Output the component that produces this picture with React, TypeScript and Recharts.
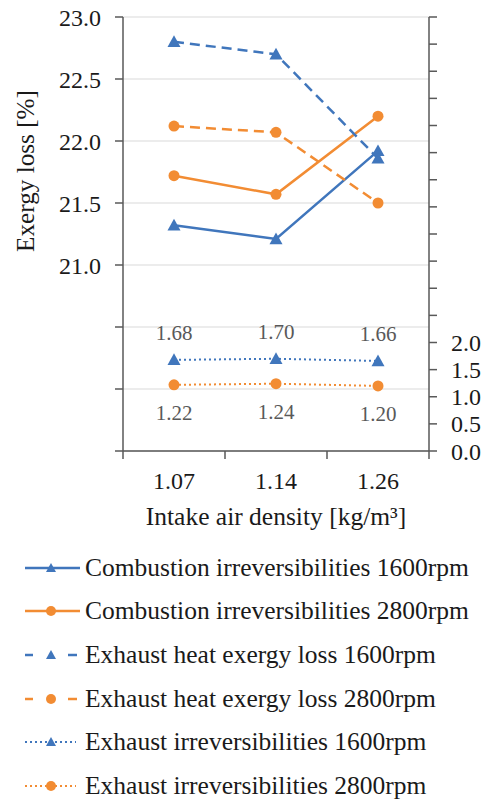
import React from 'react';
import { LineChart, Line, XAxis, YAxis, CartesianGrid, Legend, LabelList } from 'recharts';

const densities = ['1.07', '1.14', '1.26'];
const combustion1600 = [21.32, 21.21, 21.92];
const combustion2800 = [21.72, 21.57, 22.2];
const exhaustHeat1600 = [22.8, 22.7, 21.86];
const exhaustHeat2800 = [22.12, 22.07, 21.5];
const exhaustIrr1600 = [1.68, 1.7, 1.66];
const exhaustIrr2800 = [1.22, 1.24, 1.2];

const leftTicks = [19.5, 20, 20.5, 21, 21.5, 22, 22.5, 23];
const rightTicks = [0, 0.5, 1, 1.5, 2, 2.5, 3, 3.5, 4, 4.5, 5, 5.5, 6, 6.5, 7, 7.5, 8];

const seriesNames = [
  'Combustion irreversibilities 1600rpm',
  'Combustion irreversibilities 2800rpm',
  'Exhaust heat exergy loss 1600rpm',
  'Exhaust heat exergy loss 2800rpm',
  'Exhaust irreversibilities 1600rpm',
  'Exhaust irreversibilities 2800rpm',
];

const BLUE = '#4076BC';
const ORANGE = '#F28C33';
const AXIS = '#595959';
const FONT = "'Liberation Serif', 'Times New Roman', serif";

const data = densities.map((d, i) => ({
  density: d,
  c1600: combustion1600[i],
  c2800: combustion2800[i],
  h1600: exhaustHeat1600[i],
  h2800: exhaustHeat2800[i],
  e1600: exhaustIrr1600[i],
  e2800: exhaustIrr2800[i],
}));

const triPoints = (cx: number, cy: number, s: number) =>
  `${cx},${cy - s} ${cx - s},${cy + s * 0.8} ${cx + s},${cy + s * 0.8}`;

const TriDot = (props: any) => {
  const { cx, cy, index } = props;
  if (cx == null || cy == null) return <g key={`t-${index}`} />;
  return <polygon key={`t-${index}`} points={triPoints(cx, cy, 6.5)} fill={BLUE} stroke="none" />;
};

const CircDot = (props: any) => {
  const { cx, cy, index } = props;
  if (cx == null || cy == null) return <g key={`c-${index}`} />;
  return <circle key={`c-${index}`} cx={cx} cy={cy} r={5.5} fill={ORANGE} stroke="none" />;
};

// Category tick: label at band centre, tick marks at band boundaries
const CatTick = (props: any) => {
  const { x, y, payload, index, visibleTicksCount, width } = props;
  const count = visibleTicksCount || densities.length;
  const half = width / count / 2;
  const isLast = index === count - 1;
  return (
    <g>
      <line x1={x - half} y1={y} x2={x - half} y2={y + 8} stroke={AXIS} strokeWidth={1.5} />
      {isLast && (
        <line x1={x + half} y1={y} x2={x + half} y2={y + 8} stroke={AXIS} strokeWidth={1.5} />
      )}
      <text x={x} y={y + 21} dy="0.71em" textAnchor="middle" style={{ fontSize: 24, fill: '#1a1a1a' }}>
        {payload.value}
      </text>
    </g>
  );
};

const legendStyles = [
  { color: BLUE, kind: 'solid', marker: 'tri' },
  { color: ORANGE, kind: 'solid', marker: 'circ' },
  { color: BLUE, kind: 'dash', marker: 'tri' },
  { color: ORANGE, kind: 'dash', marker: 'circ' },
  { color: BLUE, kind: 'dot', marker: 'tri' },
  { color: ORANGE, kind: 'dot', marker: 'circ' },
];

const LegendIcon = ({ color, kind, marker }: { color: string; kind: string; marker: string }) => (
  <svg width={60} height={20} style={{ display: 'block' }}>
    {kind === 'solid' && <line x1={1} y1={10} x2={56} y2={10} stroke={color} strokeWidth={2.5} />}
    {kind === 'dash' && (
      <g>
        <line x1={1} y1={10} x2={9} y2={10} stroke={color} strokeWidth={2.5} />
        <line x1={44} y1={10} x2={53} y2={10} stroke={color} strokeWidth={2.5} />
      </g>
    )}
    {kind === 'dot' && (
      <line x1={1} y1={10} x2={52} y2={10} stroke={color} strokeWidth={2} strokeDasharray="2 3" />
    )}
    {marker === 'tri' ? (
      <polygon points={triPoints(27, 10, 5)} fill={color} />
    ) : (
      <circle cx={27} cy={10} r={5} fill={color} />
    )}
  </svg>
);

const renderLegend = () => (
  <div className="serif-legend" style={{ fontSize: 25.5, color: '#1a1a1a' }}>
    {seriesNames.map((name, i) => (
      <div
        key={name}
        style={{ display: 'flex', alignItems: 'center', height: 43.6, whiteSpace: 'nowrap' }}
      >
        <div style={{ width: 24 }} />
        <LegendIcon {...legendStyles[i]} />
        <span style={{ marginLeft: 1 }}>{name}</span>
      </div>
    ))}
  </div>
);

const tickStyle = { fontSize: 24, fill: '#1a1a1a' };

const css = `
.chart-root, .chart-root *, .chart-root svg text, .chart-root svg tspan, .serif-legend, .serif-legend * {
  font-family: ${FONT} !important;
}
`;

export default function App() {
  return (
    <div
      className="chart-root"
      style={{ position: 'absolute', left: 0, top: 0, width: 486, height: 799, background: '#fff' }}
    >
      <style>{css}</style>
      <LineChart
        width={486}
        height={799}
        data={data}
        margin={{ top: 17, right: 0, bottom: 347, left: 0 }}
      >
        <CartesianGrid yAxisId="left" xAxisId="cat" vertical={false} stroke="#d9d9d9" strokeWidth={1} />
        <XAxis
          xAxisId="cat"
          dataKey="density"
          type="category"
          scale="band"
          height={1}
          axisLine={{ stroke: AXIS, strokeWidth: 1.5 }}
          tickLine={false}
          tickSize={0}
          tickMargin={0}
          tick={<CatTick />}
          interval={0}
          label={{
            content: (p: any) => {
              const vb = p.viewBox || {};
              return (
                <text
                  x={vb.x + vb.width / 2}
                  y={vb.y + 74}
                  textAnchor="middle"
                  style={{ fontSize: 25.5, fill: '#1a1a1a' }}
                >
                  Intake air density [kg/m³]
                </text>
              );
            },
          }}
        />
        <YAxis
          yAxisId="left"
          orientation="left"
          width={123}
          domain={[19.5, 23]}
          ticks={leftTicks}
          interval={0}
          tickFormatter={(v: number) => (v >= 21 ? v.toFixed(1) : '')}
          tickSize={8}
          tickMargin={14}
          tick={tickStyle}
          axisLine={{ stroke: AXIS, strokeWidth: 1.5 }}
          tickLine={{ stroke: AXIS, strokeWidth: 1.5 }}
          label={{
            content: (p: any) => {
              const vb = p.viewBox || {};
              const x = vb.x + 34;
              const y = vb.y + 154;
              return (
                <text
                  x={x}
                  y={y}
                  transform={`rotate(-90, ${x}, ${y})`}
                  textAnchor="middle"
                  style={{ fontSize: 25.2, fill: '#1a1a1a' }}
                >
                  Exergy loss [%]
                </text>
              );
            },
          }}
        />
        <YAxis
          yAxisId="right"
          orientation="right"
          width={57}
          domain={[0, 8]}
          ticks={rightTicks}
          interval={0}
          tickFormatter={(v: number) => (v <= 2 ? v.toFixed(1) : '')}
          tickSize={8}
          tickMargin={14}
          tick={tickStyle}
          axisLine={{ stroke: AXIS, strokeWidth: 1.5 }}
          tickLine={{ stroke: AXIS, strokeWidth: 1.5 }}
        />
        <Legend
          verticalAlign="middle"
          layout="horizontal"
          content={renderLegend}
          wrapperStyle={{ position: 'absolute', top: 546, left: 0, width: 486 }}
        />
        <Line
          xAxisId="cat"
          yAxisId="left"
          dataKey="c1600"
          name={seriesNames[0]}
          stroke={BLUE}
          strokeWidth={2.5}
          dot={TriDot}
          activeDot={false}
          isAnimationActive={false}
        />
        <Line
          xAxisId="cat"
          yAxisId="left"
          dataKey="c2800"
          name={seriesNames[1]}
          stroke={ORANGE}
          strokeWidth={2.5}
          dot={CircDot}
          activeDot={false}
          isAnimationActive={false}
        />
        <Line
          xAxisId="cat"
          yAxisId="left"
          dataKey="h1600"
          name={seriesNames[2]}
          stroke={BLUE}
          strokeWidth={2.5}
          strokeDasharray="10 6"
          dot={TriDot}
          activeDot={false}
          isAnimationActive={false}
        />
        <Line
          xAxisId="cat"
          yAxisId="left"
          dataKey="h2800"
          name={seriesNames[3]}
          stroke={ORANGE}
          strokeWidth={2.5}
          strokeDasharray="10 6"
          dot={CircDot}
          activeDot={false}
          isAnimationActive={false}
        />
        <Line
          xAxisId="cat"
          yAxisId="right"
          dataKey="e1600"
          name={seriesNames[4]}
          stroke={BLUE}
          strokeWidth={2}
          strokeDasharray="2 3"
          dot={TriDot}
          activeDot={false}
          isAnimationActive={false}
        >
          <LabelList
            dataKey="e1600"
            position="top"
            offset={20}
            formatter={(v: any) => Number(v).toFixed(2)}
            style={{ fontSize: 21, fill: '#595959' }}
          />
        </Line>
        <Line
          xAxisId="cat"
          yAxisId="right"
          dataKey="e2800"
          name={seriesNames[5]}
          stroke={ORANGE}
          strokeWidth={2}
          strokeDasharray="2 3"
          dot={CircDot}
          activeDot={false}
          isAnimationActive={false}
        >
          <LabelList
            dataKey="e2800"
            position="bottom"
            offset={20}
            formatter={(v: any) => Number(v).toFixed(2)}
            style={{ fontSize: 21, fill: '#595959' }}
          />
        </Line>
      </LineChart>
    </div>
  );
}
